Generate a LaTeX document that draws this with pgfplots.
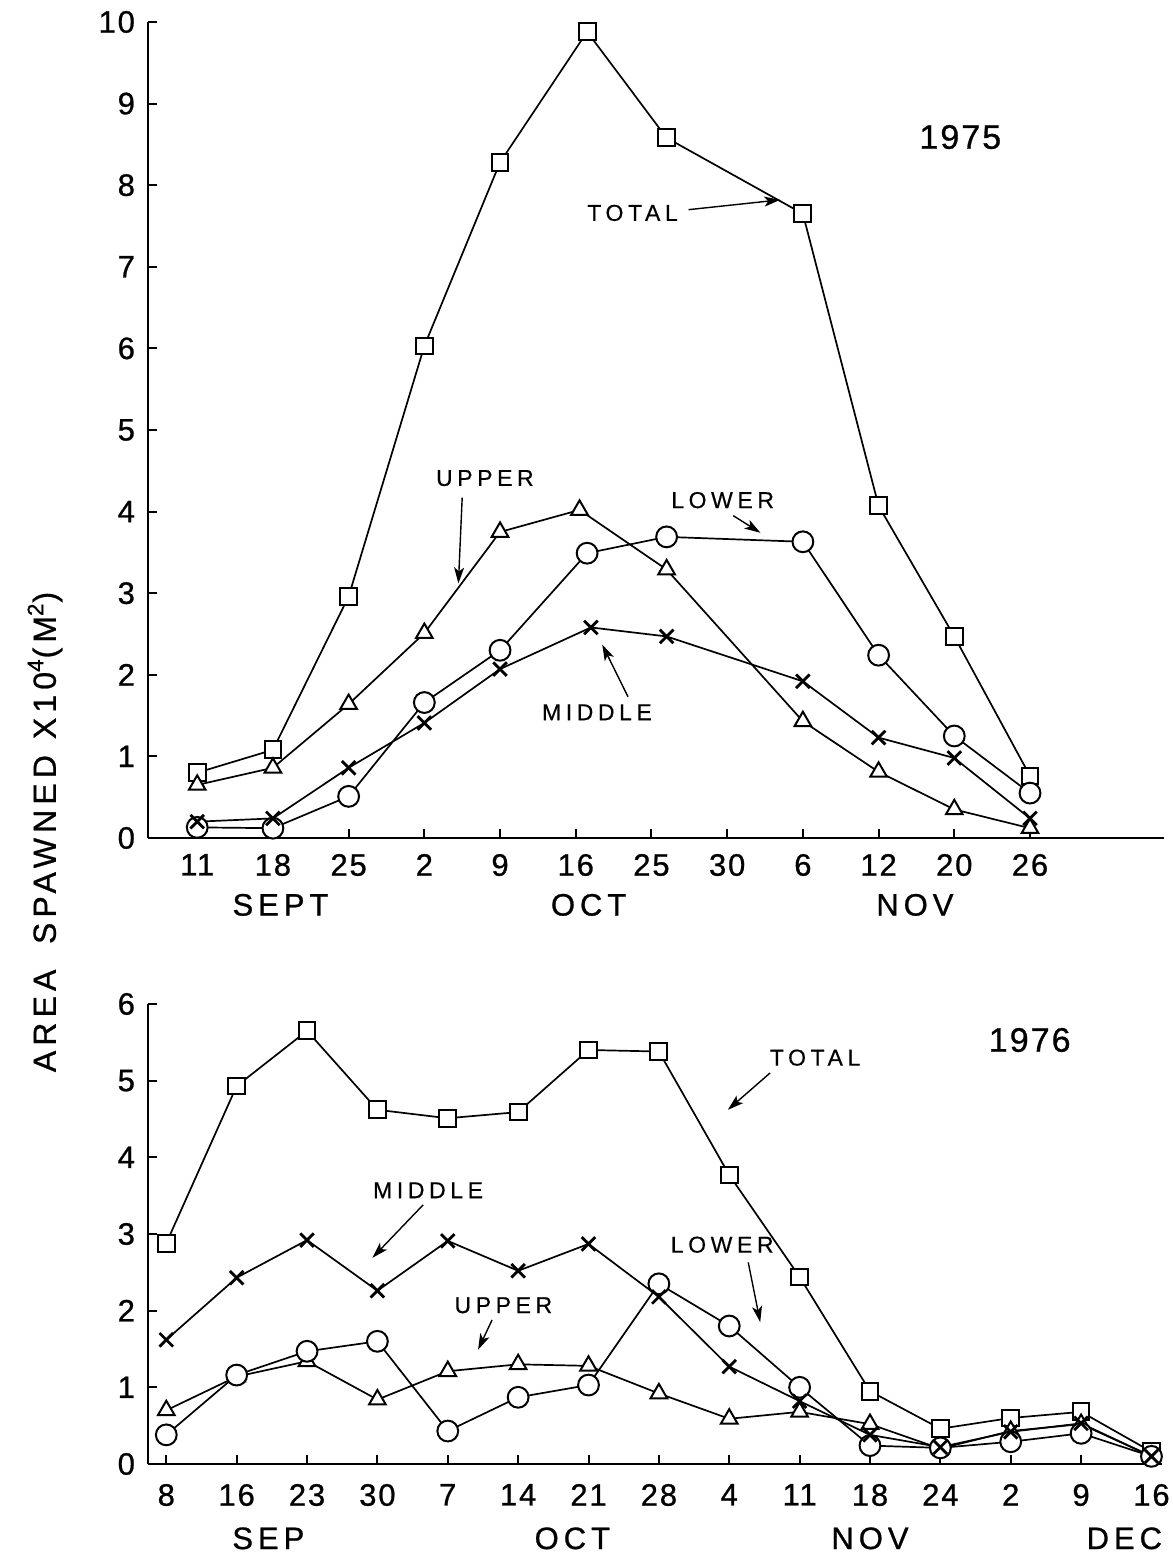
\documentclass[border=0pt]{standalone}
\usepackage{fontspec}
\setmainfont{Liberation Sans}
\newfontfamily\tickfont[LetterSpace=6, FakeBold=0.8]{Liberation Sans}
\newfontfamily\spaced[LetterSpace=20, FakeBold=0.4]{Liberation Sans}
\newfontfamily\monfont[LetterSpace=16, FakeBold=0.8]{Liberation Sans}
\usepackage{pgfplots}
\pgfplotsset{compat=1.18}
\usetikzlibrary{arrows.meta}

\pgfplotsset{
  spawn/.style={
    scale only axis,
    axis lines=left,
    axis line style={-, line width=1.4pt},
    tick align=inside,
    major tick length=4.5pt,
    tick style={black, line width=1pt},
    /pgf/number format/assume math mode=true,
    ticklabel style={font=\tickfont\fontsize{15.5}{15.5}\selectfont},
    yticklabel style={xshift=-3pt},
    xticklabel style={yshift=-4.5pt},
    clip=false,
  },
  ser/.style={black, line width=0.85pt, mark options={solid, fill=white, line width=1pt}},
  tot/.style={ser, mark=square*, mark size=4.2pt},
  upp/.style={ser, mark=triangle*, mark size=4.8pt},
  low/.style={ser, mark=*, mark size=5.2pt},
  mid/.style={ser, mark=x, mark size=4.8pt, mark options={line width=1.4pt}},
}
\tikzset{
  lab/.style={font=\spaced\fontsize{11.5}{11.5}\selectfont},
  mon/.style={font=\monfont\fontsize{15.5}{15.5}\selectfont},
  yr/.style={font=\tickfont\fontsize{17}{17}\selectfont},
  arr/.style={-{Stealth[length=8pt, width=5pt, inset=2pt]}, line width=0.7pt},
}

\begin{document}
\begin{tikzpicture}[x=1pt, y=1pt]
\useasboundingbox (0,0) rectangle (586,778);

% y axis label shared by both panels
\node[rotate=90, font=\monfont\fontsize{16}{16}\selectfont] at (22.5,362)
  {AREA\hspace{0.8em}SPAWNED\hspace{0.5em}X10\textsuperscript{4}(M\textsuperscript{2})};

% ---------- 1975 ----------
\begin{axis}[spawn,
  at={(74pt,359pt)}, anchor=south west,
  width=508pt, height=408pt,
  xmin=-0.65, xmax=12.77, ymin=0, ymax=10,
  ytick={0,...,10},
  xtick={0,...,11},
  xticklabels={11,18,25,2,9,16,25,30,6,12,20,26},
]
\addplot[tot] coordinates {(0,0.80) (1,1.08) (2,2.96) (3,6.03) (4,8.28) (5.15,9.88) (6.2,8.58) (8,7.65) (9,4.07) (10,2.47) (11,0.76)};
\addplot[upp] coordinates {(0,0.65) (1,0.86) (2,1.64) (3,2.51) (4,3.75) (5.05,4.02) (6.2,3.29) (8,1.43) (9,0.81) (10,0.35) (11,0.12)};
\addplot[low] coordinates {(0,0.13) (1,0.12) (2,0.51) (3,1.66) (4,2.30) (5.15,3.49) (6.2,3.69) (8,3.63) (9,2.24) (10,1.25) (11,0.55)};
\addplot[mid] coordinates {(0,0.20) (1,0.24) (2,0.86) (3,1.41) (4,2.07) (5.2,2.58) (6.2,2.47) (8,1.92) (9,1.23) (10,0.98) (11,0.24)};

\node[yr] at (axis cs:10.08,8.59) {1975};
\node[lab] at (axis cs:5.75,7.66) {TOTAL};
\draw[arr] (axis cs:6.49,7.70) -- (axis cs:7.70,7.82);
\node[lab] at (axis cs:3.80,4.41) {UPPER};
\draw[arr] (axis cs:3.50,4.17) -- (axis cs:3.45,3.12);
\node[lab] at (axis cs:6.94,4.14) {LOWER};
\draw[arr] (axis cs:7.08,3.95) -- (axis cs:7.44,3.74);
\node[lab] at (axis cs:5.28,1.54) {MIDDLE};
\draw[arr] (axis cs:5.69,1.73) -- (axis cs:5.35,2.37);

\node[mon] at (axis cs:1.10,-0.82) {SEPT};
\node[mon] at (axis cs:5.17,-0.82) {OCT};
\node[mon] at (axis cs:9.48,-0.82) {NOV};
\end{axis}

% ---------- 1976 ----------
\begin{axis}[spawn,
  at={(74pt,46pt)}, anchor=south west,
  width=507pt, height=230pt,
  xmin=-0.26, xmax=14.15, ymin=0, ymax=6,
  ytick={0,...,6},
  xtick={0,...,14},
  xticklabels={8,16,23,30,7,14,21,28,4,11,18,24,2,9,16},
  xticklabel style={yshift=-2pt},
]
\addplot[tot] coordinates {(0,2.88) (1,4.93) (2,5.65) (3,4.62) (4,4.51) (5,4.59) (6,5.40) (7,5.38) (8,3.77) (9,2.44) (10,0.95) (11,0.46) (12,0.60) (13,0.68) (14,0.16)};
\addplot[upp] coordinates {(0,0.70) (1,1.14) (2,1.34) (3,0.84) (4,1.21) (5,1.30) (6,1.28) (7,0.92) (8,0.59) (9,0.68) (10,0.52) (11,0.20) (12,0.43) (13,0.52) (14,0.10)};
\addplot[low] coordinates {(0,0.38) (1,1.16) (2,1.47) (3,1.60) (4,0.43) (5,0.87) (6,1.03) (7,2.35) (8,1.80) (9,1.00) (10,0.24) (11,0.21) (12,0.29) (13,0.40) (14,0.10)};
\addplot[mid] coordinates {(0,1.62) (1,2.43) (2,2.92) (3,2.26) (4,2.91) (5,2.52) (6,2.87) (7,2.18) (8,1.27) (9,0.82) (10,0.38) (11,0.22) (12,0.42) (13,0.53) (14,0.10)};

\node[yr] at (axis cs:12.27,5.53) {1976};
\node[lab] at (axis cs:9.22,5.30) {TOTAL};
\draw[arr] (axis cs:8.58,5.10) -- (axis cs:7.98,4.62);
\node[lab] at (axis cs:3.72,3.57) {MIDDLE};
\draw[arr] (axis cs:3.65,3.38) -- (axis cs:2.93,2.69);
\node[lab] at (axis cs:4.79,2.07) {UPPER};
\draw[arr] (axis cs:4.63,1.88) -- (axis cs:4.43,1.49);
\node[lab] at (axis cs:7.90,2.86) {LOWER};
\draw[arr] (axis cs:8.27,2.63) -- (axis cs:8.44,1.85);

\node[mon] at (axis cs:1.45,-0.97) {SEP};
\node[mon] at (axis cs:5.77,-0.97) {OCT};
\node[mon] at (axis cs:10.0,-0.97) {NOV};
\node[mon, anchor=east] at (axis cs:14.25,-0.97) {DEC};
\end{axis}
\end{tikzpicture}
\end{document}
